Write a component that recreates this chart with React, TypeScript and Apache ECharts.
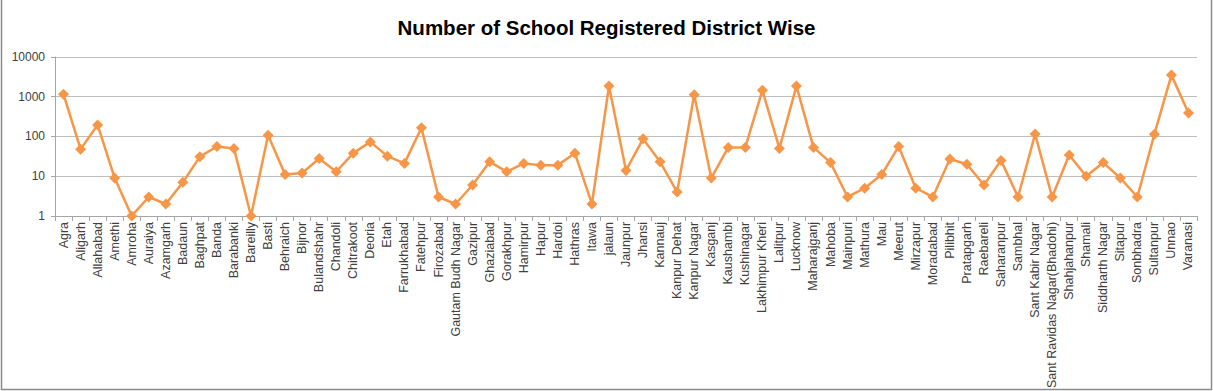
import React, { useEffect, useRef } from "react";
import * as echarts from "echarts";

const districts: string[] = [
  "Agra", "Aligarh", "Allahabad", "Amethi", "Amroha", "Auraiya", "Azamgarh", "Badaun", "Baghpat", "Banda",
  "Barabanki", "Bareilly", "Basti", "Behraich", "Bijnor", "Bulandshahr", "Chandoli", "Chitrakoot", "Deoria", "Etah",
  "Farrukhabad", "Fatehpur", "Firozabad", "Gautam Budh Nagar", "Gazipur", "Ghaziabad", "Gorakhpur", "Hamirpur", "Hapur", "Hardoi",
  "Hathras", "Itawa", "jalaun", "Jaunpur", "Jhansi", "Kannauj", "Kanpur Dehat", "Kanpur Nagar", "Kasganj", "Kaushambi",
  "Kushinagar", "Lakhimpur Kheri", "Lalitpur", "Lucknow", "Maharajganj", "Mahoba", "Mainpuri", "Mathura", "Mau", "Meerut",
  "Mirzapur", "Moradabad", "Pilibhit", "Pratapgarh", "Raebareli", "Saharanpur", "Sambhal", "Sant Kabir Nagar", "Sant Ravidas Nagar(Bhadohi)", "Shahjahanpur",
  "Shamali", "Siddharth Nagar", "Sitapur", "Sonbhadra", "Sultanpur", "Unnao", "Varanasi",
];

const schools: number[] = [
  1150, 48, 195, 9, 1, 3, 2, 7, 31, 56,
  50, 1, 108, 11, 12, 28, 13, 38, 73, 32,
  21, 165, 3, 2, 6, 23, 13, 21, 19, 19,
  38, 2, 1850, 14, 87, 23, 4, 1120, 9, 53,
  53, 1450, 50, 1850, 53, 22, 3, 5, 11, 56,
  5, 3, 27, 20, 6, 25, 3, 115, 3, 34,
  10, 22, 9, 3, 114, 3500, 390,
];

const chartTitle = "Number of School Registered District Wise";

export default function App() {
  const ref = useRef<HTMLDivElement>(null);
  useEffect(() => {
    document.body.style.margin = "0";
    if (!ref.current) return;
    const chart = echarts.init(ref.current, null, { renderer: "svg" });
    chart.setOption({
      animation: false,
      backgroundColor: "#ffffff",
      title: {
        text: chartTitle,
        left: "center",
        top: 12,
        textStyle: {
          fontFamily: "Liberation Sans",
          fontSize: 20.5,
          fontWeight: "bold",
          color: "#000000",
        },
      },
      graphic: [
        { type: "line", shape: { x1: 1.5, y1: 0, x2: 1.5, y2: 390 }, style: { stroke: "#8c8c8c", lineWidth: 1.5 } },
        { type: "line", shape: { x1: 1211.5, y1: 0, x2: 1211.5, y2: 390 }, style: { stroke: "#8c8c8c", lineWidth: 1.5 } },
        { type: "line", shape: { x1: 1.5, y1: 389.5, x2: 1211.5, y2: 389.5 }, style: { stroke: "#8c8c8c", lineWidth: 1.5 } },
      ],
      grid: { left: 55, right: 16, top: 57, bottom: 174, containLabel: false },
      xAxis: {
        type: "category",
        data: districts,
        boundaryGap: true,
        axisLine: { show: true, lineStyle: { color: "#a6a6a6", width: 1 } },
        axisTick: { show: true, length: 5, interval: 0, lineStyle: { color: "#a6a6a6" } },
        axisLabel: {
          interval: 0,
          rotate: 90,
          margin: 6,
          fontFamily: "Liberation Sans",
          fontSize: 12.5,
          color: "#404040",
        },
        splitLine: { show: false },
      },
      yAxis: {
        type: "log",
        logBase: 10,
        min: 1,
        max: 10000,
        axisLine: { show: true, lineStyle: { color: "#a6a6a6", width: 1 } },
        axisTick: { show: true, length: 4, lineStyle: { color: "#a6a6a6" } },
        axisLabel: {
          margin: 10,
          fontFamily: "Liberation Sans",
          fontSize: 12,
          color: "#404040",
          formatter: (v: number) => String(Math.round(v)),
        },
        splitLine: { show: true, lineStyle: { color: "#bfbfbf", width: 1 } },
      },
      series: [
        {
          type: "line",
          data: schools,
          symbol: "diamond",
          symbolSize: 11,
          lineStyle: { color: "#F79646", width: 2.5 },
          itemStyle: { color: "#F79646" },
        },
      ],
    });
    return () => chart.dispose();
  }, []);
  return <div ref={ref} style={{ width: 1213, height: 391 }} />;
}
